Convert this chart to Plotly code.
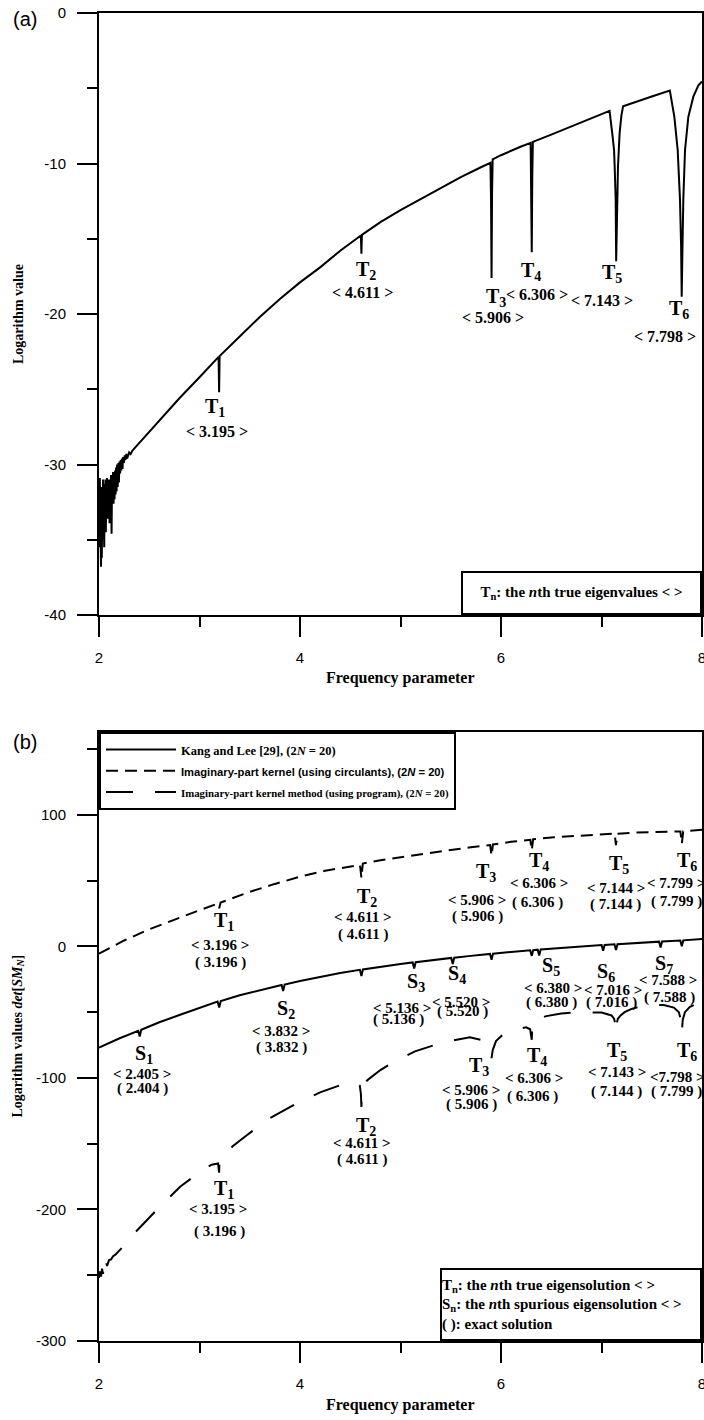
import plotly.graph_objects as go

SERIF = "Liberation Serif"
SANS = "Liberation Sans"

# ---------------- panel (a) data ----------------
a_freq = [2.000, 2.004, 2.008, 2.012, 2.016, 2.020, 2.024, 2.028, 2.032, 2.036,
          2.040, 2.044, 2.048, 2.052, 2.056, 2.060, 2.064, 2.068, 2.072, 2.076,
          2.080, 2.085, 2.090, 2.095, 2.100, 2.105, 2.110, 2.115, 2.120, 2.125,
          2.130, 2.135, 2.140, 2.145, 2.150, 2.155, 2.160, 2.165, 2.170, 2.175,
          2.180, 2.186, 2.192, 2.198, 2.204, 2.210, 2.216, 2.222, 2.228, 2.234,
          2.240, 2.248, 2.256, 2.264, 2.272, 2.280, 2.290, 2.300, 2.315, 2.330,
          2.35, 2.45, 2.6, 2.8, 3.0, 3.19, 3.195, 3.2, 3.4, 3.6, 3.8, 4.0, 4.2, 4.4,
          4.606, 4.611, 4.616, 4.8, 5.0, 5.2, 5.4, 5.6, 5.8,
          5.895, 5.901, 5.906, 5.911, 5.917, 6.0, 6.1, 6.2,
          6.295, 6.301, 6.306, 6.311, 6.317, 6.5, 6.7, 6.9, 7.0, 7.08,
          7.107, 7.125, 7.131, 7.138, 7.141, 7.146, 7.158, 7.164, 7.18, 7.198, 7.215,
          7.3, 7.5, 7.68, 7.725, 7.758, 7.781, 7.792, 7.798, 7.806, 7.814, 7.831,
          7.864, 7.914, 7.964, 8.0]
a_logv = [-31.2, -35.5, -30.9, -34.8, -33.0, -36.8, -31.5, -36.2, -32.0, -35.0,
          -31.0, -34.2, -32.5, -35.5, -31.3, -33.8, -31.0, -34.5, -31.8, -33.2,
          -30.9, -33.6, -31.4, -32.8, -31.0, -33.9, -31.2, -32.4, -30.7, -34.6,
          -31.1, -32.6, -30.5, -32.6, -30.8, -32.3, -30.4, -32.0, -30.2, -31.8,
          -30.0, -31.5, -29.9, -31.2, -29.8, -30.6, -29.7, -30.4, -29.6, -30.3,
          -29.5, -29.9, -29.4, -29.7, -29.3, -29.6, -29.4, -29.2, -29.3, -29.1,
          -28.95, -28.2, -27.1, -25.6, -24.2, -22.85, -25.2, -22.8, -21.5, -20.2, -19.0, -17.9, -16.9, -15.8,
          -14.78, -16.0, -14.74, -13.9, -13.1, -12.35, -11.6, -10.9, -10.25,
          -9.95, -12.5, -17.6, -12.0, -9.72, -9.45, -9.15, -8.87,
          -8.63, -11.0, -15.9, -11.0, -8.56, -8.08, -7.54, -7.0, -6.75, -6.5,
          -8.0, -9.1, -10.2, -11.5, -12.4, -16.5, -12.4, -10.2, -8.0, -6.8, -6.2,
          -6.0, -5.55, -5.16, -6.9, -9.1, -12.4, -15.5, -18.85, -15.5, -12.4, -9.1,
          -6.9, -5.56, -4.8, -4.55]

a_true_n = [1, 2, 3, 4, 5, 6]
a_true_txt = ["3.195", "4.611", "5.906", "6.306", "7.143", "7.798"]
# label anchor positions (data units)
a_T_x = [3.154, 4.657, 5.950, 6.299, 7.104, 7.771]
a_T_y = [-26.2, -17.1, -18.9, -17.2, -17.3, -19.7]
a_V_x = [3.174, 4.617, 5.920, 6.358, 7.005, 7.632]
a_V_y = [-27.8, -18.6, -20.2, -18.7, -19.1, -21.5]

a_xticks = [2, 4, 6, 8]
a_xtick_txt = ["2", "4", "6", "8"]
a_yticks = [-40, -30, -20, -10, 0]
a_ytick_txt = ["-40", "-30", "-20", "-10", "0"]

# ---------------- panel (b) data ----------------
kl_freq = [2.0, 2.2, 2.39, 2.405, 2.42, 2.6, 2.8, 3.0, 3.18, 3.196, 3.212, 3.4, 3.6,
           3.817, 3.832, 3.847, 4.0, 4.2, 4.4, 4.596, 4.611, 4.626, 4.8, 5.0,
           5.121, 5.136, 5.151, 5.3, 5.505, 5.52, 5.535, 5.7, 5.891, 5.906, 5.921,
           6.1, 6.291, 6.306, 6.321, 6.365, 6.38, 6.395, 6.6, 6.8, 7.001, 7.016, 7.031,
           7.129, 7.144, 7.159, 7.35, 7.573, 7.588, 7.603, 7.784, 7.799, 7.814, 8.0]
kl_logv = [-77, -70, -64.2, -68.5, -63.4, -57.7, -52.2, -46.8, -42.0, -46.5, -41.6, -37.2, -33.2,
           -29.4, -34.0, -29.0, -26.3, -23.2, -20.3, -17.8, -22.5, -17.5, -15.4, -13.4,
           -12.2, -16.8, -12.0, -10.6, -8.8, -13.3, -8.6, -7.2, -5.7, -10.2, -5.5,
           -4.2, -2.9, -7.2, -2.8, -2.5, -7.0, -2.4, -1.1, 0.0, 1.0, -3.4, 1.1,
           1.6, -2.8, 1.7, 2.6, 3.6, -0.8, 3.7, 4.5, 0.1, 4.6, 5.6]

circ_freq = [2.0, 2.25, 2.5, 2.75, 3.0, 3.18, 3.196, 3.21, 3.5, 3.75, 4.0, 4.25, 4.5,
             4.597, 4.611, 4.625, 4.8, 5.0, 5.25, 5.5, 5.7, 5.892, 5.906, 5.92,
             6.1, 6.292, 6.306, 6.32, 6.5, 6.75, 7.0, 7.13, 7.144, 7.158, 7.35, 7.6,
             7.785, 7.799, 7.813, 8.0]
circ_logv = [-5.5, 4.5, 13.0, 20.5, 27.5, 32.5, 29.0, 33.3, 41.5, 47.5, 53.0, 57.5, 61.0,
             62.0, 52.0, 63.0, 65.5, 67.8, 70.8, 73.3, 75.3, 77.0, 69.0, 77.5,
             79.5, 81.0, 73.0, 81.5, 82.8, 84.2, 85.3, 85.8, 77.0, 85.6, 86.5, 87.2,
             87.4, 78.0, 87.5, 88.6]

prog_freq = [2.0, 2.01, 2.02, 2.03, 2.04, 2.05, 2.06, 2.07, 2.08, 2.10, 2.12, 2.14, 2.16,
             2.23, 2.29, 2.43, 2.61, 2.81, 3.03, 3.12, 3.185, 3.195, 3.2, 3.22, 3.33,
             3.48, 3.69, 3.95, 4.2, 4.47, 4.56, 4.595, 4.606, 4.611, 4.616, 4.63, 4.677,
             4.8, 4.915, 5.0, 5.144, 5.42, 5.69, 5.8, 5.86, 5.895, 5.906, 5.917, 5.95,
             6.02, 6.16, 6.25, 6.29, 6.306, 6.312, 6.35, 6.45, 6.6, 6.8, 7.0, 7.1,
             7.125, 7.138, 7.144, 7.15, 7.163, 7.19, 7.23, 7.3, 7.4, 7.5, 7.62, 7.72,
             7.77, 7.79, 7.799, 7.808, 7.83, 7.88, 7.95, 8.0]
prog_logv = [-252, -247, -251, -245, -249, -242, -246, -240, -243, -238.5, -238, -235.5, -234.5,
             -229, -223, -211.5, -197.5, -182.5, -170, -166, -165, -172, -162.5, -160.5, -152,
             -143, -131, -120, -111, -103.6, -103.3, -106, -112, -122, -111, -104.5, -101.3,
             -94, -88.6, -85.3, -79.8, -73, -69, -71, -74.5, -80, -85, -79, -72,
             -67, -63, -61.5, -63, -71, -58, -55.5, -53, -51, -50, -50.3, -52.5,
             -55, -59, -66, -59, -55, -52.5, -50, -47.5, -45.3, -44.3, -44.6, -46.5,
             -50, -56, -66, -56, -50, -46, -43.5, -42]

b_yticks = [-300, -200, -100, 0, 100]
b_ytick_txt = ["-300", "-200", "-100", "0", "100"]

# labels panel (b)
circ_n = [1, 2, 3, 4, 5, 6]
circ_est = ["3.196", "4.611", "5.906", "6.306", "7.144", "7.799"]
circ_exact = ["3.196", "4.611", "5.906", "6.306", "7.144", "7.799"]
circ_T_x = [3.244, 4.667, 5.851, 6.378, 7.174, 7.851]
circ_T_y = [18.8, 37.1, 56.0, 64.4, 62.1, 64.4]
circ_V_x = [3.204, 4.627, 5.761, 6.378, 7.144, 7.745]
circ_V_y = [1.3, 22.6, 35.5, 48.4, 44.6, 48.4]
circ_E_x = [3.204, 4.627, 5.771, 6.368, 7.144, 7.751]
circ_E_y = [-12.4, 8.9, 22.6, 33.2, 31.7, 34.0]

kl_n = [1, 2, 3, 4, 5, 6, 7]
kl_est = ["2.405", "3.832", "5.136", "5.520", "6.380", "7.016", "7.588"]
kl_exact = ["2.404", "3.832", "5.136", "5.520", "6.380", "7.016", "7.588"]
kl_S_x = [2.448, 3.861, 5.154, 5.562, 6.498, 7.045, 7.622]
kl_S_y = [-82.3, -48.1, -27.6, -21.5, -15.4, -20.0, -13.9]
kl_V_x = [2.428, 3.811, 5.015, 5.602, 6.517, 7.114, 7.662]
kl_V_y = [-96.7, -64.1, -46.6, -42.0, -31.4, -32.9, -25.3]
kl_E_x = [2.428, 3.811, 4.985, 5.612, 6.498, 7.095, 7.672]
kl_E_y = [-108.1, -77.0, -55.7, -49.6, -42.8, -42.8, -39.0]

prog_n = [1, 2, 3, 4, 5, 6]
prog_est = ["&lt; 3.195 &gt;", "&lt; 4.611 &gt;", "&lt; 5.906 &gt;", "&lt; 6.306 &gt;",
            "&lt; 7.143 &gt;", "&lt;7.798 &gt;"]
prog_exact = ["3.196", "4.611", "5.906", "6.306", "7.144", "7.799"]
prog_T_x = [3.244, 4.657, 5.781, 6.358, 7.154, 7.851]
prog_T_y = [-184.8, -137.0, -91.4, -83.8, -80.0, -80.0]
prog_V_x = [3.184, 4.617, 5.701, 6.328, 7.154, 7.761]
prog_V_y = [-200.0, -149.2, -108.9, -99.8, -95.2, -99.0]
prog_E_x = [3.194, 4.617, 5.711, 6.318, 7.154, 7.751]
prog_E_y = [-216.8, -162.1, -120.4, -114.3, -110.4, -110.4]

# ---------------- figure ----------------
fig = go.Figure()
fig.add_trace(go.Scatter(x=a_freq, y=a_logv, mode="lines", xaxis="x", yaxis="y",
                         line=dict(color="black", width=2), showlegend=False))
fig.add_trace(go.Scatter(x=kl_freq, y=kl_logv, mode="lines", xaxis="x2", yaxis="y2",
                         line=dict(color="black", width=2),
                         name="<span style='font-size:12.5px'><b>Kang and Lee [29], (2<i>N</i> = 20)</b></span>"))
fig.add_trace(go.Scatter(x=circ_freq, y=circ_logv, mode="lines", xaxis="x2", yaxis="y2",
                         line=dict(color="black", width=2, dash="12px,7px"),
                         name="<span style='font-family:Liberation Sans;font-size:11.2px'><b>Imaginary-part kernel (using circulants), (2<i>N</i> = 20)</b></span>"))
fig.add_trace(go.Scatter(x=prog_freq, y=prog_logv, mode="lines", xaxis="x2", yaxis="y2",
                         line=dict(color="black", width=2, dash="27px,22px"),
                         name="<span style='font-size:10.8px'><b>Imaginary-part kernel method (using program), (2<i>N</i> = 20)</b></span>"))

anns = []


def lab(x, y, text, size, xr, yr, **kw):
    d = dict(x=x, y=y, xref=xr, yref=yr, text=text, showarrow=False,
             font=dict(family=SERIF, size=size, color="black"),
             xanchor="center", yanchor="middle")
    d.update(kw)
    return d


for i, n in enumerate(a_true_n):
    anns.append(lab(a_T_x[i], a_T_y[i], f"<b>T<sub>{n}</sub></b>", 20, "x", "y"))
    anns.append(lab(a_V_x[i], a_V_y[i], f"<b>&lt; {a_true_txt[i]} &gt;</b>", 16, "x", "y"))

for i, n in enumerate(circ_n):
    anns.append(lab(circ_T_x[i], circ_T_y[i], f"<b>T<sub>{n}</sub></b>", 20, "x2", "y2"))
    anns.append(lab(circ_V_x[i], circ_V_y[i], f"<b>&lt; {circ_est[i]} &gt;</b>", 15, "x2", "y2"))
    anns.append(lab(circ_E_x[i], circ_E_y[i], f"<b>( {circ_exact[i]} )</b>", 15, "x2", "y2"))

for i, n in enumerate(kl_n):
    anns.append(lab(kl_S_x[i], kl_S_y[i], f"<b>S<sub>{n}</sub></b>", 20, "x2", "y2"))
    anns.append(lab(kl_V_x[i], kl_V_y[i], f"<b>&lt; {kl_est[i]} &gt;</b>", 15, "x2", "y2"))
    anns.append(lab(kl_E_x[i], kl_E_y[i], f"<b>( {kl_exact[i]} )</b>", 15, "x2", "y2"))

for i, n in enumerate(prog_n):
    anns.append(lab(prog_T_x[i], prog_T_y[i], f"<b>T<sub>{n}</sub></b>", 20, "x2", "y2"))
    anns.append(lab(prog_V_x[i], prog_V_y[i], f"<b>{prog_est[i]}</b>", 15, "x2", "y2"))
    anns.append(lab(prog_E_x[i], prog_E_y[i], f"<b>( {prog_exact[i]} )</b>", 15, "x2", "y2"))

# axis titles and panel letters
anns.append(lab(0.5, 0, "<b>Frequency parameter</b>", 16, "x domain", "y domain", yshift=-63))
anns.append(lab(0.5, 0, "<b>Frequency parameter</b>", 16, "x2 domain", "y2 domain", yshift=-64))
anns.append(lab(0, 0.5, "<b>Logarithm value</b>", 14, "x domain", "y domain", xshift=-81, textangle=-90))
anns.append(lab(0, 0.5, "<b>Logarithm values <i>det</i>[<i>SM<sub>N</sub></i>]</b>", 14,
                "x2 domain", "y2 domain", xshift=-81, textangle=-90))
anns.append(dict(x=0, y=1, xref="x domain", yref="y domain", text="(a)", showarrow=False,
                 font=dict(family=SANS, size=20, color="black"), xanchor="center",
                 yanchor="middle", xshift=-74, yshift=-6))
anns.append(dict(x=0, y=1, xref="x2 domain", yref="y2 domain", text="(b)", showarrow=False,
                 font=dict(family=SANS, size=20, color="black"), xanchor="center",
                 yanchor="middle", xshift=-74, yshift=-10))

# notes boxes
anns.append(dict(x=1, y=0, xref="x domain", yref="y domain", xanchor="right", yanchor="bottom",
                 text="<b>T<sub>n</sub>: the <i>n</i>th true eigenvalues &lt; &gt;</b>",
                 showarrow=False, font=dict(family=SERIF, size=15, color="black"),
                 bordercolor="black", borderwidth=2, borderpad=0, bgcolor="white",
                 width=237, height=40))
anns.append(dict(x=1, y=0, xref="x2 domain", yref="y2 domain", xanchor="right", yanchor="bottom",
                 text=("<b>T<sub>n</sub>: the <i>n</i>th true eigensolution &lt; &gt;</b><br>"
                       "<b>S<sub>n</sub>: the <i>n</i>th spurious eigensolution &lt; &gt;</b><br>"
                       "<b>( ): exact solution</b>"),
                 align="left", showarrow=False, font=dict(family=SERIF, size=15, color="black"),
                 bordercolor="black", borderwidth=2, borderpad=0, bgcolor="white",
                 width=258, height=69))

tickfont = dict(family=SANS, size=15, color="black")
common = dict(showline=True, linewidth=2, linecolor="black", mirror=True, showgrid=False,
              zeroline=False, ticks="outside", ticklen=20, tickwidth=2, tickcolor="black",
              tickfont=tickfont, ticklabelstandoff=8, ticklabeloverflow="allow")

ya_dom = [1 - 602 / 1328, 1]
yb_dom = [0, 609 / 1328]

minor_x = dict(tickvals=[3, 5, 7], ticklen=10, tickwidth=2, tickcolor="black", ticks="outside")

fig.update_layout(
    width=704, height=1420,
    margin=dict(l=99, r=2, t=13, b=79, autoexpand=False),
    paper_bgcolor="white", plot_bgcolor="white",
    xaxis=dict(domain=[0, 1], anchor="y", range=[2, 8], tickvals=a_xticks, ticktext=a_xtick_txt,
               minor=minor_x, **common),
    yaxis=dict(domain=ya_dom, anchor="x", range=[-40, 0], tickvals=a_yticks, ticktext=a_ytick_txt,
               minor=dict(tickvals=[-35, -25, -15, -5], ticklen=10, tickwidth=2, tickcolor="black", ticks="outside"),
               **common),
    xaxis2=dict(domain=[0, 1], anchor="y2", range=[2, 8], tickvals=a_xticks, ticktext=a_xtick_txt,
                minor=minor_x, **common),
    yaxis2=dict(domain=yb_dom, anchor="x2", range=[-300, 163], tickvals=b_yticks, ticktext=b_ytick_txt,
                minor=dict(tickvals=[-250, -150, -50, 50, 150], ticklen=10, tickwidth=2, tickcolor="black", ticks="outside"),
                **common),
    legend=dict(x=0, y=yb_dom[1], xref="paper", yref="paper", xanchor="left", yanchor="top",
                bordercolor="black", borderwidth=2, bgcolor="white",
                font=dict(family=SERIF, size=14, color="black"), itemwidth=70,
                tracegroupgap=0),
    annotations=anns,
    showlegend=True,
)

fig.write_html("out.html", config={"displayModeBar": False},
               post_script="document.body.style.margin='0';document.body.style.padding='0';document.body.style.overflow='hidden';")
